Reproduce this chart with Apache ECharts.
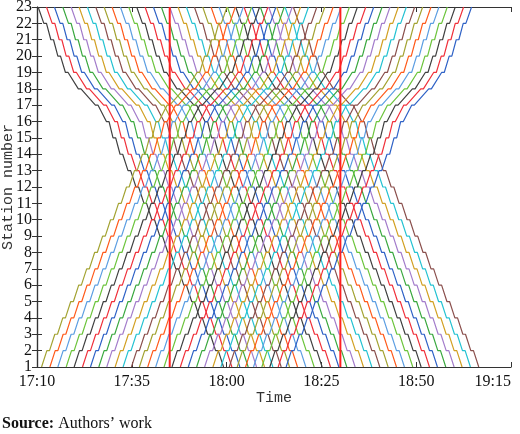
<!DOCTYPE html>
<html>
<head>
<meta charset="utf-8">
<script src="https://cdn.jsdelivr.net/npm/echarts@6/dist/echarts.min.js"></script>
<style>
  html, body { margin: 0; padding: 0; background: #fff; }
  #chart { width: 520px; height: 434px; }
</style>
</head>
<body>
<div id="chart"></div>
<script>
// x values are minutes after 17:10
const startClock = [17, 10];
const stations = [1, 2, 3, 4, 5, 6, 7, 8, 9, 10, 11, 12, 13, 14, 15, 16, 17, 18, 19, 20, 21, 22, 23];

// run + dwell time (min) for the sections 1-2, 2-3, ... 22-23
const sectionMin = [2.1, 2.1, 2.1, 2.1, 2.1, 2.1, 2.1, 2.1, 2.1, 2.1, 2.1, 2.1,
                    2.1, 1.85, 1.75, 2.9, 4.5, 3.4, 2.0, 1.85, 1.85, 2.2];
const dwellMin = 0.7;

// departures from station 23 (down) and station 1 (up)
const downDepart = [0.3, 2.5, 4.6, 6.8, 9.0, 11.1, 13.3, 15.5, 17.7, 19.8, 22.0, 24.2, 26.3, 28.5, 30.7, 32.8,
                    35.0, 37.2, 39.4, 41.5, 43.7, 45.9, 48.0, 50.2, 52.4, 54.6, 56.7, 58.9, 61.1, 63.2, 65.4, 67.6];
const upDepart = [1.2, 3.4, 5.5, 7.7, 9.8, 12.0, 14.1, 16.3, 18.4, 20.6, 22.7, 24.9, 27.0, 29.2, 31.3, 33.5,
                  35.6, 37.8, 39.9, 42.1, 44.2, 46.4, 48.5, 50.7, 52.8, 55.0, 57.1, 59.3, 61.4, 63.6, 65.7];

// peak period markers
const peakLines = [35, 80];

const palette = ['#404040', '#f0303a', '#2f62c6', '#3aa83f', '#a37ccb', '#d2a023',
                 '#24c2d2', '#8a4f4c', '#a3a332', '#ff5a1a', '#5c9ee2', '#6cc43c'];

function downPath(t) {
    const pts = [[t, 23]];
    for (let s = 22; s >= 1; s--) {
        t += sectionMin[s - 1] - dwellMin;
        pts.push([t, stations[s - 1]]);
        if (s > 1) {
            t += dwellMin;
            pts.push([t, stations[s - 1]]);
        }
    }
    return pts;
}

function upPath(t) {
    const pts = [[t, 1]];
    for (let s = 1; s <= 22; s++) {
        t += sectionMin[s - 1] - dwellMin;
        pts.push([t, stations[s]]);
        if (s < 22) {
            t += dwellMin;
            pts.push([t, stations[s]]);
        }
    }
    return pts;
}

const trains = downDepart.map(downPath).concat(upDepart.map(upPath));

const series = trains.map(function (pts, i) {
    return {
        type: 'line',
        data: pts,
        showSymbol: false,
        silent: true,
        lineStyle: {color: palette[i % palette.length], width: 1.2},
        z: 2
    };
});

peakLines.forEach(function (x) {
    series.push({
        type: 'line',
        data: [[x, 1], [x, 23]],
        showSymbol: false,
        silent: true,
        lineStyle: {color: '#ff2020', width: 2},
        z: 3
    });
});

function clock(v) {
    const m = startClock[0] * 60 + startClock[1] + v;
    const mm = m % 60;
    return Math.floor(m / 60) + ':' + (mm < 10 ? '0' : '') + mm;
}

const axisLine = {lineStyle: {color: '#333', width: 1.2}};
const tickIn = {inside: true, length: 5, lineStyle: {color: '#333'}};

const chart = echarts.init(document.getElementById('chart'));
chart.setOption({
    animation: false,
    grid: {left: 37, right: 9, top: 7, bottom: 67, containLabel: false, outerBoundsMode: 'none'},
    xAxis: [{
        type: 'value',
        min: 0, max: 125, interval: 25,
        name: 'Time',
        nameLocation: 'middle',
        nameGap: 24,
        nameMoveOverlap: false,
        nameTextStyle: {fontFamily: 'Liberation Mono', fontSize: 15, color: '#333'},
        axisLine: axisLine,
        axisTick: tickIn,
        splitLine: {show: false},
        axisLabel: {
            fontFamily: 'Liberation Serif', fontSize: 16, color: '#111', margin: 7,
            alignMaxLabel: 'right',
            formatter: function (v) { return clock(v); }
        }
    }, {
        type: 'value', position: 'top',
        min: 0, max: 125, interval: 25,
        axisLine: axisLine, axisTick: tickIn,
        axisLabel: {show: false}, splitLine: {show: false}
    }],
    yAxis: [{
        type: 'value',
        min: 1, max: 23, interval: 1,
        name: 'Station number',
        nameLocation: 'middle',
        nameGap: 21,
        nameMoveOverlap: false,
        nameTextStyle: {fontFamily: 'Liberation Mono', fontSize: 15, color: '#333'},
        axisLine: Object.assign({show: true}, axisLine),
        axisTick: tickIn,
        splitLine: {show: false},
        axisLabel: {fontFamily: 'Liberation Serif', fontSize: 16, color: '#111', margin: 5}
    }, {
        type: 'value', position: 'right',
        min: 1, max: 23, interval: 1,
        axisLine: Object.assign({show: true}, axisLine), axisTick: tickIn,
        axisLabel: {show: false}, splitLine: {show: false}
    }],
    graphic: [{
        type: 'text',
        left: 2, top: 416,
        style: {
            text: '{b|Source:} Authors\u2019 work',
            rich: {b: {fontWeight: 'bold', fontFamily: 'Liberation Serif', fontSize: 16, fill: '#111'}},
            fontFamily: 'Liberation Serif', fontSize: 16, fill: '#111'
        }
    }],
    series: series
});
</script>
</body>
</html>
